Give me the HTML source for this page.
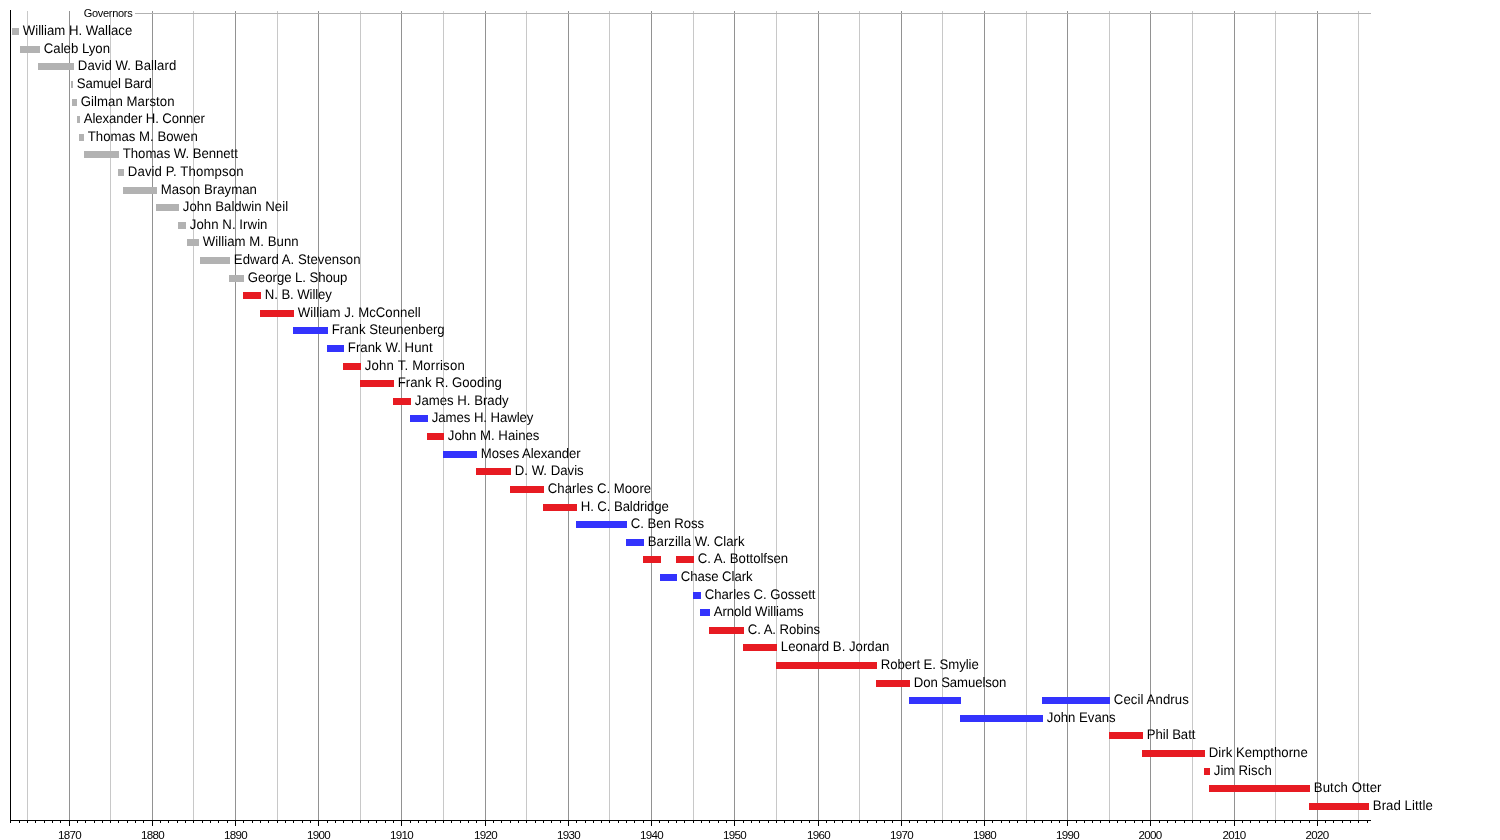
<!DOCTYPE html>
<html lang="en"><head><meta charset="utf-8"><title>Governors of Idaho timeline</title>
<style>
html,body{margin:0;padding:0;background:#fff}
body{width:1500px;height:840px;overflow:hidden}
svg{display:block}
text{font-family:"Liberation Sans",sans-serif;fill:#000}
.n{font-size:13.2px;text-rendering:geometricPrecision}
.a{font-size:11.6px;letter-spacing:-0.7px;text-anchor:middle}
.h{font-size:11px;letter-spacing:-0.3px}
rect{shape-rendering:crispEdges}
</style></head><body>
<svg width="1500" height="840" viewBox="0 0 1500 840">
<rect x="0" y="0" width="1500" height="840" fill="#fff"/>

<g id="grid">
<rect x="27" y="11" width="1" height="809" fill="#c8c8c8"/>
<rect x="69" y="11" width="1" height="809" fill="#929292"/>
<rect x="110" y="11" width="1" height="809" fill="#c8c8c8"/>
<rect x="152" y="11" width="1" height="809" fill="#929292"/>
<rect x="193" y="11" width="1" height="809" fill="#c8c8c8"/>
<rect x="235" y="11" width="1" height="809" fill="#929292"/>
<rect x="277" y="11" width="1" height="809" fill="#c8c8c8"/>
<rect x="318" y="11" width="1" height="809" fill="#929292"/>
<rect x="360" y="11" width="1" height="809" fill="#c8c8c8"/>
<rect x="401" y="11" width="1" height="809" fill="#929292"/>
<rect x="443" y="11" width="1" height="809" fill="#c8c8c8"/>
<rect x="485" y="11" width="1" height="809" fill="#929292"/>
<rect x="526" y="11" width="1" height="809" fill="#c8c8c8"/>
<rect x="568" y="11" width="1" height="809" fill="#929292"/>
<rect x="609" y="11" width="1" height="809" fill="#c8c8c8"/>
<rect x="651" y="11" width="1" height="809" fill="#929292"/>
<rect x="693" y="11" width="1" height="809" fill="#c8c8c8"/>
<rect x="734" y="11" width="1" height="809" fill="#929292"/>
<rect x="776" y="11" width="1" height="809" fill="#c8c8c8"/>
<rect x="818" y="11" width="1" height="809" fill="#929292"/>
<rect x="859" y="11" width="1" height="809" fill="#c8c8c8"/>
<rect x="901" y="11" width="1" height="809" fill="#929292"/>
<rect x="942" y="11" width="1" height="809" fill="#c8c8c8"/>
<rect x="984" y="11" width="1" height="809" fill="#929292"/>
<rect x="1026" y="11" width="1" height="809" fill="#c8c8c8"/>
<rect x="1067" y="11" width="1" height="809" fill="#929292"/>
<rect x="1109" y="11" width="1" height="809" fill="#c8c8c8"/>
<rect x="1150" y="11" width="1" height="809" fill="#929292"/>
<rect x="1192" y="11" width="1" height="809" fill="#c8c8c8"/>
<rect x="1234" y="11" width="1" height="809" fill="#929292"/>
<rect x="1275" y="11" width="1" height="809" fill="#c8c8c8"/>
<rect x="1317" y="11" width="1" height="809" fill="#929292"/>
<rect x="1358" y="11" width="1" height="809" fill="#c8c8c8"/>
<rect x="135" y="13" width="1236" height="1" fill="#b2b2b2"/>
</g>
<rect x="82" y="5" width="53" height="12" fill="#fff"/>
<text class="h" x="83.7" y="17">Governors</text>
<g id="axis" fill="#000">
<rect x="10" y="10" width="1" height="811"/>
<rect x="10" y="820" width="1361" height="1"/>
<rect x="10" y="821" width="1" height="2"/>
<rect x="19" y="821" width="1" height="2"/>
<rect x="27" y="821" width="1" height="2"/>
<rect x="35" y="821" width="1" height="2"/>
<rect x="44" y="821" width="1" height="2"/>
<rect x="52" y="821" width="1" height="2"/>
<rect x="60" y="821" width="1" height="2"/>
<rect x="69" y="821" width="1" height="5"/>
<rect x="77" y="821" width="1" height="2"/>
<rect x="85" y="821" width="1" height="2"/>
<rect x="94" y="821" width="1" height="2"/>
<rect x="102" y="821" width="1" height="2"/>
<rect x="110" y="821" width="1" height="2"/>
<rect x="118" y="821" width="1" height="2"/>
<rect x="127" y="821" width="1" height="2"/>
<rect x="135" y="821" width="1" height="2"/>
<rect x="143" y="821" width="1" height="2"/>
<rect x="152" y="821" width="1" height="5"/>
<rect x="160" y="821" width="1" height="2"/>
<rect x="168" y="821" width="1" height="2"/>
<rect x="177" y="821" width="1" height="2"/>
<rect x="185" y="821" width="1" height="2"/>
<rect x="193" y="821" width="1" height="2"/>
<rect x="202" y="821" width="1" height="2"/>
<rect x="210" y="821" width="1" height="2"/>
<rect x="218" y="821" width="1" height="2"/>
<rect x="227" y="821" width="1" height="2"/>
<rect x="235" y="821" width="1" height="5"/>
<rect x="243" y="821" width="1" height="2"/>
<rect x="252" y="821" width="1" height="2"/>
<rect x="260" y="821" width="1" height="2"/>
<rect x="268" y="821" width="1" height="2"/>
<rect x="277" y="821" width="1" height="2"/>
<rect x="285" y="821" width="1" height="2"/>
<rect x="293" y="821" width="1" height="2"/>
<rect x="302" y="821" width="1" height="2"/>
<rect x="310" y="821" width="1" height="2"/>
<rect x="318" y="821" width="1" height="5"/>
<rect x="327" y="821" width="1" height="2"/>
<rect x="335" y="821" width="1" height="2"/>
<rect x="343" y="821" width="1" height="2"/>
<rect x="352" y="821" width="1" height="2"/>
<rect x="360" y="821" width="1" height="2"/>
<rect x="368" y="821" width="1" height="2"/>
<rect x="376" y="821" width="1" height="2"/>
<rect x="385" y="821" width="1" height="2"/>
<rect x="393" y="821" width="1" height="2"/>
<rect x="401" y="821" width="1" height="5"/>
<rect x="410" y="821" width="1" height="2"/>
<rect x="418" y="821" width="1" height="2"/>
<rect x="426" y="821" width="1" height="2"/>
<rect x="435" y="821" width="1" height="2"/>
<rect x="443" y="821" width="1" height="2"/>
<rect x="451" y="821" width="1" height="2"/>
<rect x="460" y="821" width="1" height="2"/>
<rect x="468" y="821" width="1" height="2"/>
<rect x="476" y="821" width="1" height="2"/>
<rect x="485" y="821" width="1" height="5"/>
<rect x="493" y="821" width="1" height="2"/>
<rect x="501" y="821" width="1" height="2"/>
<rect x="510" y="821" width="1" height="2"/>
<rect x="518" y="821" width="1" height="2"/>
<rect x="526" y="821" width="1" height="2"/>
<rect x="535" y="821" width="1" height="2"/>
<rect x="543" y="821" width="1" height="2"/>
<rect x="551" y="821" width="1" height="2"/>
<rect x="560" y="821" width="1" height="2"/>
<rect x="568" y="821" width="1" height="5"/>
<rect x="576" y="821" width="1" height="2"/>
<rect x="585" y="821" width="1" height="2"/>
<rect x="593" y="821" width="1" height="2"/>
<rect x="601" y="821" width="1" height="2"/>
<rect x="609" y="821" width="1" height="2"/>
<rect x="618" y="821" width="1" height="2"/>
<rect x="626" y="821" width="1" height="2"/>
<rect x="634" y="821" width="1" height="2"/>
<rect x="643" y="821" width="1" height="2"/>
<rect x="651" y="821" width="1" height="5"/>
<rect x="659" y="821" width="1" height="2"/>
<rect x="668" y="821" width="1" height="2"/>
<rect x="676" y="821" width="1" height="2"/>
<rect x="684" y="821" width="1" height="2"/>
<rect x="693" y="821" width="1" height="2"/>
<rect x="701" y="821" width="1" height="2"/>
<rect x="709" y="821" width="1" height="2"/>
<rect x="718" y="821" width="1" height="2"/>
<rect x="726" y="821" width="1" height="2"/>
<rect x="734" y="821" width="1" height="5"/>
<rect x="743" y="821" width="1" height="2"/>
<rect x="751" y="821" width="1" height="2"/>
<rect x="759" y="821" width="1" height="2"/>
<rect x="768" y="821" width="1" height="2"/>
<rect x="776" y="821" width="1" height="2"/>
<rect x="784" y="821" width="1" height="2"/>
<rect x="793" y="821" width="1" height="2"/>
<rect x="801" y="821" width="1" height="2"/>
<rect x="809" y="821" width="1" height="2"/>
<rect x="818" y="821" width="1" height="5"/>
<rect x="826" y="821" width="1" height="2"/>
<rect x="834" y="821" width="1" height="2"/>
<rect x="842" y="821" width="1" height="2"/>
<rect x="851" y="821" width="1" height="2"/>
<rect x="859" y="821" width="1" height="2"/>
<rect x="867" y="821" width="1" height="2"/>
<rect x="876" y="821" width="1" height="2"/>
<rect x="884" y="821" width="1" height="2"/>
<rect x="892" y="821" width="1" height="2"/>
<rect x="901" y="821" width="1" height="5"/>
<rect x="909" y="821" width="1" height="2"/>
<rect x="917" y="821" width="1" height="2"/>
<rect x="926" y="821" width="1" height="2"/>
<rect x="934" y="821" width="1" height="2"/>
<rect x="942" y="821" width="1" height="2"/>
<rect x="951" y="821" width="1" height="2"/>
<rect x="959" y="821" width="1" height="2"/>
<rect x="967" y="821" width="1" height="2"/>
<rect x="976" y="821" width="1" height="2"/>
<rect x="984" y="821" width="1" height="5"/>
<rect x="992" y="821" width="1" height="2"/>
<rect x="1001" y="821" width="1" height="2"/>
<rect x="1009" y="821" width="1" height="2"/>
<rect x="1017" y="821" width="1" height="2"/>
<rect x="1026" y="821" width="1" height="2"/>
<rect x="1034" y="821" width="1" height="2"/>
<rect x="1042" y="821" width="1" height="2"/>
<rect x="1051" y="821" width="1" height="2"/>
<rect x="1059" y="821" width="1" height="2"/>
<rect x="1067" y="821" width="1" height="5"/>
<rect x="1076" y="821" width="1" height="2"/>
<rect x="1084" y="821" width="1" height="2"/>
<rect x="1092" y="821" width="1" height="2"/>
<rect x="1100" y="821" width="1" height="2"/>
<rect x="1109" y="821" width="1" height="2"/>
<rect x="1117" y="821" width="1" height="2"/>
<rect x="1125" y="821" width="1" height="2"/>
<rect x="1134" y="821" width="1" height="2"/>
<rect x="1142" y="821" width="1" height="2"/>
<rect x="1150" y="821" width="1" height="5"/>
<rect x="1159" y="821" width="1" height="2"/>
<rect x="1167" y="821" width="1" height="2"/>
<rect x="1175" y="821" width="1" height="2"/>
<rect x="1184" y="821" width="1" height="2"/>
<rect x="1192" y="821" width="1" height="2"/>
<rect x="1200" y="821" width="1" height="2"/>
<rect x="1209" y="821" width="1" height="2"/>
<rect x="1217" y="821" width="1" height="2"/>
<rect x="1225" y="821" width="1" height="2"/>
<rect x="1234" y="821" width="1" height="5"/>
<rect x="1242" y="821" width="1" height="2"/>
<rect x="1250" y="821" width="1" height="2"/>
<rect x="1259" y="821" width="1" height="2"/>
<rect x="1267" y="821" width="1" height="2"/>
<rect x="1275" y="821" width="1" height="2"/>
<rect x="1284" y="821" width="1" height="2"/>
<rect x="1292" y="821" width="1" height="2"/>
<rect x="1300" y="821" width="1" height="2"/>
<rect x="1309" y="821" width="1" height="2"/>
<rect x="1317" y="821" width="1" height="5"/>
<rect x="1325" y="821" width="1" height="2"/>
<rect x="1333" y="821" width="1" height="2"/>
<rect x="1342" y="821" width="1" height="2"/>
<rect x="1350" y="821" width="1" height="2"/>
<rect x="1358" y="821" width="1" height="2"/>
<rect x="1367" y="821" width="1" height="2"/>
</g>
<g id="axlab">
<text class="a" x="69.6" y="839">1870</text>
<text class="a" x="152.6" y="839">1880</text>
<text class="a" x="235.6" y="839">1890</text>
<text class="a" x="318.6" y="839">1900</text>
<text class="a" x="401.6" y="839">1910</text>
<text class="a" x="485.6" y="839">1920</text>
<text class="a" x="568.6" y="839">1930</text>
<text class="a" x="651.6" y="839">1940</text>
<text class="a" x="734.6" y="839">1950</text>
<text class="a" x="818.6" y="839">1960</text>
<text class="a" x="901.6" y="839">1970</text>
<text class="a" x="984.6" y="839">1980</text>
<text class="a" x="1067.6" y="839">1990</text>
<text class="a" x="1150.1" y="839">2000</text>
<text class="a" x="1234.1" y="839">2010</text>
<text class="a" x="1317.1" y="839">2020</text>
</g>
<g id="bars">
<rect x="12" y="28" width="7" height="7" fill="#b2b2b2"/>
<rect x="20" y="46" width="20" height="7" fill="#b2b2b2"/>
<rect x="38" y="63" width="36" height="7" fill="#b2b2b2"/>
<rect x="71" y="81" width="2" height="7" fill="#b2b2b2"/>
<rect x="72" y="99" width="5" height="7" fill="#b2b2b2"/>
<rect x="77" y="116" width="3" height="7" fill="#b2b2b2"/>
<rect x="79" y="134" width="5" height="7" fill="#b2b2b2"/>
<rect x="84" y="151" width="35" height="7" fill="#b2b2b2"/>
<rect x="118" y="169" width="6" height="7" fill="#b2b2b2"/>
<rect x="123" y="187" width="34" height="7" fill="#b2b2b2"/>
<rect x="156" y="204" width="23" height="7" fill="#b2b2b2"/>
<rect x="178" y="222" width="8" height="7" fill="#b2b2b2"/>
<rect x="187" y="239" width="12" height="7" fill="#b2b2b2"/>
<rect x="200" y="257" width="30" height="7" fill="#b2b2b2"/>
<rect x="229" y="275" width="15" height="7" fill="#b2b2b2"/>
<rect x="243" y="292" width="18" height="7" fill="#e71b22"/>
<rect x="260" y="310" width="34" height="7" fill="#e71b22"/>
<rect x="293" y="327" width="35" height="7" fill="#3333fd"/>
<rect x="327" y="345" width="17" height="7" fill="#3333fd"/>
<rect x="343" y="363" width="18" height="7" fill="#e71b22"/>
<rect x="360" y="380" width="34" height="7" fill="#e71b22"/>
<rect x="393" y="398" width="18" height="7" fill="#e71b22"/>
<rect x="410" y="415" width="18" height="7" fill="#3333fd"/>
<rect x="427" y="433" width="17" height="7" fill="#e71b22"/>
<rect x="443" y="451" width="34" height="7" fill="#3333fd"/>
<rect x="476" y="468" width="35" height="7" fill="#e71b22"/>
<rect x="510" y="486" width="34" height="7" fill="#e71b22"/>
<rect x="543" y="504" width="34" height="7" fill="#e71b22"/>
<rect x="576" y="521" width="51" height="7" fill="#3333fd"/>
<rect x="626" y="539" width="18" height="7" fill="#3333fd"/>
<rect x="643" y="556" width="18" height="7" fill="#e71b22"/>
<rect x="676" y="556" width="18" height="7" fill="#e71b22"/>
<rect x="660" y="574" width="17" height="7" fill="#3333fd"/>
<rect x="693" y="592" width="8" height="7" fill="#3333fd"/>
<rect x="700" y="609" width="10" height="7" fill="#3333fd"/>
<rect x="709" y="627" width="35" height="7" fill="#e71b22"/>
<rect x="743" y="644" width="34" height="7" fill="#e71b22"/>
<rect x="776" y="662" width="101" height="7" fill="#e71b22"/>
<rect x="876" y="680" width="34" height="7" fill="#e71b22"/>
<rect x="909" y="697" width="52" height="7" fill="#3333fd"/>
<rect x="1042" y="697" width="68" height="7" fill="#3333fd"/>
<rect x="960" y="715" width="83" height="7" fill="#3333fd"/>
<rect x="1109" y="732" width="34" height="7" fill="#e71b22"/>
<rect x="1142" y="750" width="63" height="7" fill="#e71b22"/>
<rect x="1204" y="768" width="6" height="7" fill="#e71b22"/>
<rect x="1209" y="785" width="101" height="7" fill="#e71b22"/>
<rect x="1309" y="803" width="60" height="7" fill="#e71b22"/>
</g>
<g id="names">
<text class="n" transform="translate(22.8 35) scale(1 1.05)">William H. Wallace</text>
<text class="n" transform="translate(43.8 53) scale(1 1.05)">Caleb Lyon</text>
<text class="n" transform="translate(77.8 70) scale(1 1.05)" textLength="98.48">David W. Ballard</text>
<text class="n" transform="translate(76.8 88) scale(1 1.05)" textLength="74.93">Samuel Bard</text>
<text class="n" transform="translate(80.8 106) scale(1 1.05)" textLength="93.68">Gilman Marston</text>
<text class="n" transform="translate(83.8 123) scale(1 1.05)" textLength="121.16">Alexander H. Conner</text>
<text class="n" transform="translate(87.8 141) scale(1 1.05)">Thomas M. Bowen</text>
<text class="n" transform="translate(122.8 158) scale(1 1.05)" textLength="115.11">Thomas W. Bennett</text>
<text class="n" transform="translate(127.8 176) scale(1 1.05)" textLength="115.68">David P. Thompson</text>
<text class="n" transform="translate(160.8 194) scale(1 1.05)">Mason Brayman</text>
<text class="n" transform="translate(182.8 211) scale(1 1.05)" textLength="105.33">John Baldwin Neil</text>
<text class="n" transform="translate(189.8 229) scale(1 1.05)" textLength="77.67">John N. Irwin</text>
<text class="n" transform="translate(202.8 246) scale(1 1.05)" textLength="95.87">William M. Bunn</text>
<text class="n" transform="translate(233.8 264) scale(1 1.05)" textLength="126.79">Edward A. Stevenson</text>
<text class="n" transform="translate(247.8 282) scale(1 1.05)" textLength="99.65">George L. Shoup</text>
<text class="n" transform="translate(264.8 299) scale(1 1.05)" textLength="67.14">N. B. Willey</text>
<text class="n" transform="translate(297.8 317) scale(1 1.05)" textLength="122.88">William J. McConnell</text>
<text class="n" transform="translate(331.8 334) scale(1 1.05)">Frank Steunenberg</text>
<text class="n" transform="translate(347.8 352) scale(1 1.05)" textLength="84.78">Frank W. Hunt</text>
<text class="n" transform="translate(364.8 370) scale(1 1.05)" textLength="99.95">John T. Morrison</text>
<text class="n" transform="translate(397.8 387) scale(1 1.05)">Frank R. Gooding</text>
<text class="n" transform="translate(414.8 405) scale(1 1.05)">James H. Brady</text>
<text class="n" transform="translate(431.8 422) scale(1 1.05)" textLength="101.61">James H. Hawley</text>
<text class="n" transform="translate(447.8 440) scale(1 1.05)">John M. Haines</text>
<text class="n" transform="translate(480.8 458) scale(1 1.05)" textLength="99.97">Moses Alexander</text>
<text class="n" transform="translate(514.8 475) scale(1 1.05)">D. W. Davis</text>
<text class="n" transform="translate(547.8 493) scale(1 1.05)">Charles C. Moore</text>
<text class="n" transform="translate(580.8 511) scale(1 1.05)" textLength="88.12">H. C. Baldridge</text>
<text class="n" transform="translate(630.8 528) scale(1 1.05)" textLength="73.33">C. Ben Ross</text>
<text class="n" transform="translate(647.8 546) scale(1 1.05)">Barzilla W. Clark</text>
<text class="n" transform="translate(697.8 563) scale(1 1.05)" textLength="90.41">C. A. Bottolfsen</text>
<text class="n" transform="translate(680.8 581) scale(1 1.05)" textLength="71.76">Chase Clark</text>
<text class="n" transform="translate(704.8 599) scale(1 1.05)" textLength="110.71">Charles C. Gossett</text>
<text class="n" transform="translate(713.8 616) scale(1 1.05)" textLength="89.88">Arnold Williams</text>
<text class="n" transform="translate(747.8 634) scale(1 1.05)" textLength="72.3">C. A. Robins</text>
<text class="n" transform="translate(780.8 651) scale(1 1.05)">Leonard B. Jordan</text>
<text class="n" transform="translate(880.8 669) scale(1 1.05)" textLength="97.95">Robert E. Smylie</text>
<text class="n" transform="translate(913.8 687) scale(1 1.05)" textLength="92.44">Don Samuelson</text>
<text class="n" transform="translate(1113.8 704) scale(1 1.05)" textLength="75.03">Cecil Andrus</text>
<text class="n" transform="translate(1046.8 722) scale(1 1.05)">John Evans</text>
<text class="n" transform="translate(1146.8 739) scale(1 1.05)" textLength="48.62">Phil Batt</text>
<text class="n" transform="translate(1208.8 757) scale(1 1.05)">Dirk Kempthorne</text>
<text class="n" transform="translate(1213.8 775) scale(1 1.05)" textLength="57.96">Jim Risch</text>
<text class="n" transform="translate(1313.8 792) scale(1 1.05)" textLength="67.7">Butch Otter</text>
<text class="n" transform="translate(1372.8 810) scale(1 1.05)" textLength="59.99">Brad Little</text>
</g>
</svg>
</body></html>
